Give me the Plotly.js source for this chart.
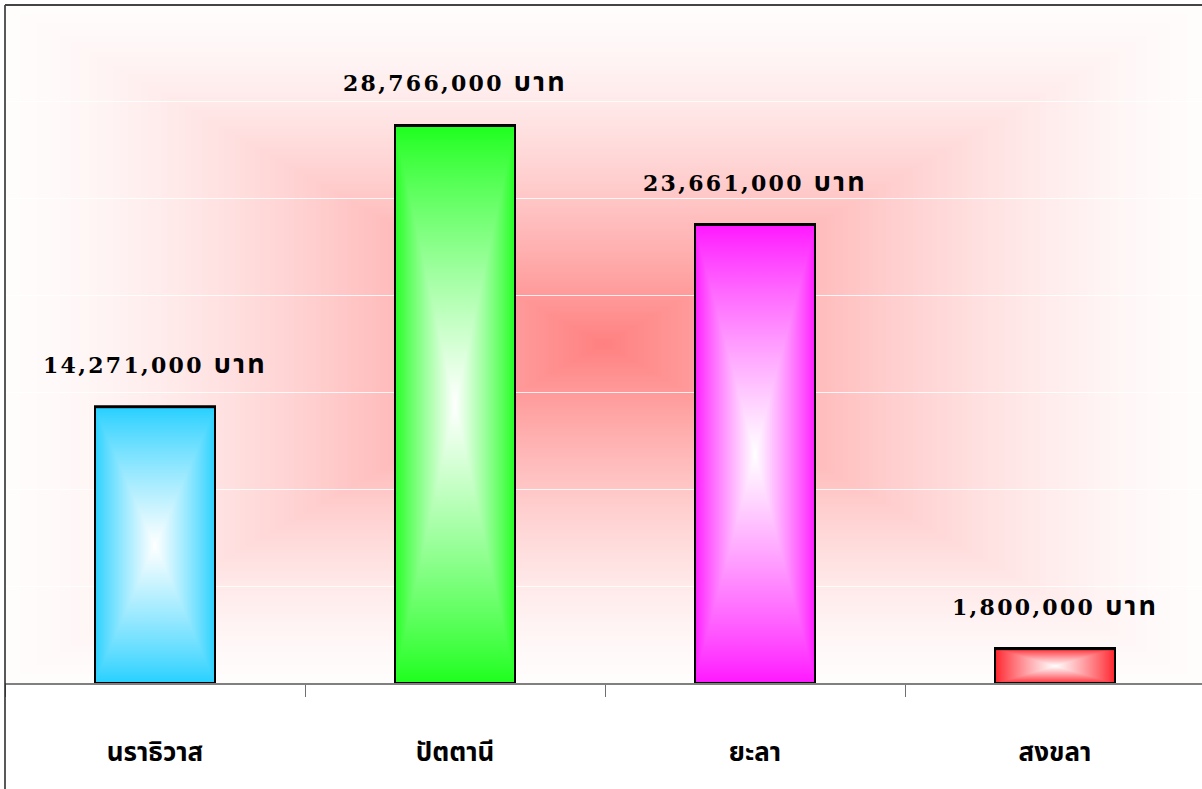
<!DOCTYPE html>
<html><head><meta charset="utf-8">
<script src="https://cdn.plot.ly/plotly-3.0.1.min.js"></script>
<style>
html,body{margin:0;padding:0;overflow:hidden;background:#fff}
#chart{width:1202px;height:789px}
.annotation-text{letter-spacing:2.3px}
</style></head><body><div id="chart"></div>
<script>
const provinces = ['นราธิวาส', 'ปัตตานี', 'ยะลา', 'สงขลา'];
const budgets = [14271000, 28766000, 23661000, 1800000];
const barColors = ['#22cfff', '#1aff1a', '#ff14ff', '#ff1a24'];
const unitLabel = 'บาท';

function hexToRgb(h) {
  return [parseInt(h.substr(1,2),16), parseInt(h.substr(3,2),16), parseInt(h.substr(5,2),16)];
}
function pathGradient(w, h, edge, center, power, border) {
  const c = document.createElement('canvas');
  c.width = w; c.height = h;
  const ctx = c.getContext('2d');
  const img = ctx.createImageData(w, h);
  const cx = (w - 1) / 2, cy = (h - 1) / 2;
  for (let y = 0; y < h; y++) {
    for (let x = 0; x < w; x++) {
      const ax = Math.abs(x - cx) / (w / 2), ay = Math.abs(y - cy) / (h / 2);
      const t = Math.max(0, 1 - Math.max(ax, ay));
      const f = Math.pow(t, power);
      const k = (y * w + x) * 4;
      if (border && (x < border || y < border || x >= w - border || y >= h - border)) {
        img.data[k] = 0; img.data[k+1] = 0; img.data[k+2] = 0; img.data[k+3] = 255;
      } else {
        img.data[k] = edge[0] + (center[0] - edge[0]) * f;
        img.data[k+1] = edge[1] + (center[1] - edge[1]) * f;
        img.data[k+2] = edge[2] + (center[2] - edge[2]) * f;
        img.data[k+3] = 255;
      }
    }
  }
  ctx.putImageData(img, 0, 0);
  return c.toDataURL();
}

const W = 1202, H = 789;
const M = {l: 5, r: 0, t: 5, b: 106, pad: 0};
const plotW = W - M.l - M.r, plotH = H - M.t - M.b;

const bgImage = {
  source: pathGradient(plotW, plotH, [255, 252, 252], [255, 128, 128], 1.5, 0),
  xref: 'x domain', yref: 'y domain', x: 0, y: 1, sizex: 1, sizey: 1,
  xanchor: 'left', yanchor: 'top', sizing: 'stretch', layer: 'below'
};

const trace = {
  type: 'bar', x: provinces, y: budgets, width: 0.4,
  marker: {color: barColors, line: {color: '#000', width: 2}},
  hoverinfo: 'none'
};

const annotations = provinces.map((p, i) => ({
  x: p, y: budgets[i], xref: 'x', yref: 'y',
  text: budgets[i].toLocaleString('en-US') + ' <span style="font-size:27px">' + unitLabel + '</span>',
  showarrow: false, yanchor: 'middle', yshift: 43,
  font: {family: 'DejaVu Serif, Noto Sans Thai, Noto Sans, sans-serif', size: 22, color: '#000', weight: 'bold'}
}));

const layout = {
  width: W, height: H, margin: M,
  paper_bgcolor: '#ffffff', plot_bgcolor: 'rgba(0,0,0,0)',
  showlegend: false, bargap: 0.6,
  xaxis: {
    type: 'category', range: [-0.5, 3.49], tickson: 'boundaries',
    ticks: 'outside', ticklen: 12, tickcolor: '#707070', tickwidth: 1,
    showline: true, linecolor: '#808080', linewidth: 1.5,
    showgrid: false, zeroline: false, ticklabelstandoff: 45,
    tickfont: {family: 'Noto Sans Thai, Noto Sans, Tahoma, sans-serif', size: 26, color: '#000', weight: 'bold'}
  },
  yaxis: {
    range: [0, 34950000], dtick: 5000000, tick0: 0,
    showgrid: true, gridcolor: 'rgba(255,255,255,0.85)', gridwidth: 1,
    showticklabels: false, ticks: '', zeroline: false, showline: false
  },
  annotations: annotations,
  images: [bgImage],
  shapes: [
    {type: 'line', xref: 'paper', yref: 'paper', x0: 0, x1: 0, y0: -0.2, y1: 1, line: {color: '#222', width: 1.5}},
    {type: 'line', xref: 'paper', yref: 'paper', x0: 0, x1: 1.01, y0: 1, y1: 1, line: {color: '#444', width: 2}}
  ]
};

const gd = document.getElementById('chart');
Plotly.newPlot(gd, [trace], layout, {staticPlot: true}).then(() => {
  const xa = gd._fullLayout.xaxis, ya = gd._fullLayout.yaxis;
  const barImgs = budgets.map((v, i) => {
    const wpx = Math.round(Math.abs(xa.l2p(i + 0.2) - xa.l2p(i - 0.2)));
    const hpx = Math.round(Math.abs(ya.l2p(0) - ya.l2p(v)));
    return {
      source: pathGradient(wpx + 2, hpx + 1, hexToRgb(barColors[i]), [255, 255, 255], 0.85, 2),
      xref: 'x', yref: 'y', x: i, y: v, sizex: 0.4 * (wpx + 2) / wpx, sizey: v * (hpx + 1) / hpx,
      xanchor: 'center', yanchor: 'top', sizing: 'stretch', layer: 'above'
    };
  });
  return Plotly.relayout(gd, {images: [bgImage].concat(barImgs)});
});
</script>
</body></html>
